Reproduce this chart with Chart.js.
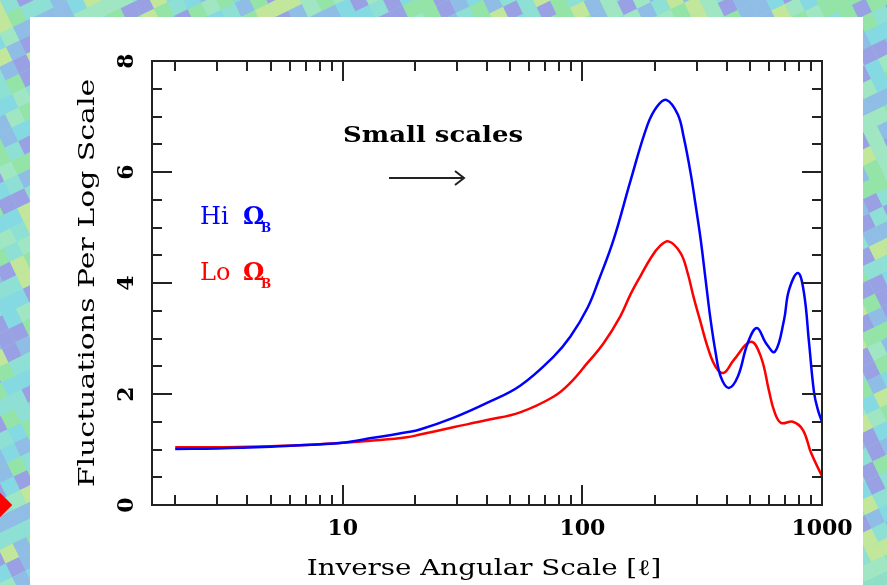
<!DOCTYPE html>
<html>
<head>
<meta charset="utf-8">
<script src="https://cdn.jsdelivr.net/npm/chart.js@4.4.1/dist/chart.umd.min.js"></script>
<style>
  html, body { margin: 0; padding: 0; width: 887px; height: 585px; overflow: hidden; }
  #bg { position: absolute; left: 0; top: 0; }
  #panel { position: absolute; left: 30px; top: 17px; width: 833px; height: 580px; background: #fff; }
  #diamond { position: absolute; left: -36px; top: 485px; width: 40px; height: 40px; background: #ff0000; transform: rotate(45deg); }
  #chart { position: absolute; left: 0; top: 0; }
</style>
</head>
<body>
<canvas id="bg" width="887" height="585"></canvas>
<div id="diamond"></div>
<div id="panel"></div>
<canvas id="chart" width="887" height="585"></canvas>
<script>
// hodnoty odčítané z obrázka
const ellHi = [2, 3, 5, 7, 10, 13.4, 18.5, 21, 28.9, 40, 55, 75.7, 89, 105, 117, 135, 159, 187, 205, 224, 250, 265, 283, 297, 312, 327, 343, 360, 378, 408, 445, 490, 535, 583, 636, 694, 728, 794, 841, 883, 927, 962, 1000];
const valHi = [1.01, 1.02, 1.05, 1.08, 1.12, 1.21, 1.31, 1.36, 1.57, 1.84, 2.15, 2.67, 3.03, 3.55, 4.05, 4.78, 5.85, 6.85, 7.18, 7.30, 7.04, 6.62, 5.98, 5.40, 4.77, 4.05, 3.33, 2.74, 2.31, 2.11, 2.31, 2.92, 3.19, 2.92, 2.76, 3.33, 3.87, 4.18, 3.82, 2.92, 2.02, 1.71, 1.50];

const ellLo = [2, 3, 5, 7, 10, 13.4, 18.5, 21, 28.9, 40, 55, 75.7, 89, 105, 122, 144, 159, 175, 193, 210, 229, 257, 275, 291, 312, 333, 360, 389, 428, 505, 556, 600, 630, 674, 756, 833, 900, 1000];
const valLo = [1.04, 1.04, 1.06, 1.08, 1.12, 1.16, 1.22, 1.27, 1.40, 1.53, 1.67, 1.95, 2.20, 2.56, 2.90, 3.40, 3.80, 4.13, 4.45, 4.66, 4.75, 4.54, 4.18, 3.75, 3.28, 2.85, 2.49, 2.38, 2.61, 2.94, 2.67, 2.07, 1.71, 1.48, 1.50, 1.35, 0.94, 0.52];

const xLabels = [10, 100, 1000];
const yLabels = [0, 2, 4, 6, 8];

const FONT = '"DejaVu Serif", "Liberation Serif", serif';

// pozadie - mozaika
(function () {
    const c = document.getElementById('bg').getContext('2d');
    const cols = ['#8ee0d4', '#93e4a6', '#8fbde6', '#9aa0e4', '#c2e79a', '#84d9e2', '#a0e6c2'];
    c.fillStyle = '#8fdfc8';
    c.fillRect(0, 0, 887, 585);
    c.save();
    c.rotate(-0.45);
    const s = 15;
    for (let i = -20; i < 80; i++) {
        for (let j = -10; j < 60; j++) {
            const k = ((i * 31 + j * 17) ^ (i * j + 7)) & 1023;
            c.fillStyle = cols[k % cols.length];
            c.fillRect(i * s, j * s, s, s);
        }
    }
    c.restore();
})();

// text roztiahnutý do šírky (pôvodné písmo je široké)
function wideText(ctx, text, x, y, rot, sx) {
    ctx.save();
    ctx.translate(x, y);
    ctx.rotate(rot);
    ctx.scale(sx, 1);
    ctx.fillText(text, 0, 0);
    ctx.restore();
}

// vnútorné ticky, otočené popisy osi y, názvy osí a texty v grafe
const decorPlugin = {
    id: 'decor',
    afterDraw(chart) {
        const ctx = chart.ctx;
        const a = chart.chartArea;
        const xs = chart.scales.x, ys = chart.scales.y;
        ctx.save();
        ctx.strokeStyle = '#222';
        ctx.lineWidth = 2;
        ctx.beginPath();
        for (let d = 1; d <= 100; d *= 10) {
            for (let m = 1; m <= 9; m++) {
                const v = d * m;
                if (v < xs.min || v >= xs.max) continue;
                const px = Math.round(xs.getPixelForValue(v));
                const len = m === 1 ? 20 : 10;
                ctx.moveTo(px, a.bottom); ctx.lineTo(px, a.bottom - len);
                ctx.moveTo(px, a.top); ctx.lineTo(px, a.top + len);
            }
        }
        for (let v = 0.5; v < 8; v += 0.5) {
            const py = Math.round(ys.getPixelForValue(v));
            const len = v % 2 === 0 ? 20 : 10;
            ctx.moveTo(a.left, py); ctx.lineTo(a.left + len, py);
            ctx.moveTo(a.right, py); ctx.lineTo(a.right - len, py);
        }
        ctx.stroke();
        // rámik
        ctx.strokeRect(a.left, a.top, a.right - a.left, a.bottom - a.top);

        ctx.fillStyle = '#000';
        ctx.textAlign = 'center';
        ctx.textBaseline = 'middle';

        // popisy y (otočené)
        ctx.font = 'bold 22px ' + FONT;
        yLabels.forEach(v => wideText(ctx, String(v), 127, ys.getPixelForValue(v), -Math.PI / 2, 1));

        // názvy osí
        ctx.font = '22px ' + FONT;
        wideText(ctx, chart.options.scales.y.title.text, 88, 283, -Math.PI / 2, 1.36);
        wideText(ctx, chart.options.scales.x.title.text, 484, 569, 0, 1.26);

        // Small scales + šípka
        ctx.font = 'bold 22px ' + FONT;
        wideText(ctx, 'Small scales', 433, 136, 0, 1.18);
        ctx.beginPath();
        ctx.moveTo(389, 178); ctx.lineTo(463, 178);
        ctx.moveTo(455, 171); ctx.lineTo(464, 178); ctx.lineTo(455, 185);
        ctx.stroke();

        // legenda
        const leg = [['Hi', 'blue', 218], ['Lo', 'red', 274]];
        ctx.textAlign = 'left';
        leg.forEach(([t, c, y]) => {
            ctx.fillStyle = c;
            ctx.font = '24px ' + FONT;
            ctx.fillText(t, 200, y);
            ctx.font = 'bold 24px ' + FONT;
            ctx.fillText('Ω', 243, y);
            ctx.font = 'bold 12px ' + FONT;
            ctx.fillText('B', 261, y + 11);
        });
        ctx.restore();
    }
};

const ctx = document.getElementById('chart').getContext('2d');
const chart = new Chart(ctx, {
    type: 'line',
    data: {
        datasets: [{
            label: 'Hi',
            data: ellHi.map((x, i) => ({ x: x, y: valHi[i] })),
            borderColor: '#0000ff',
            borderWidth: 2.5,
            pointRadius: 0,
            tension: 0.4,
            fill: false
        }, {
            label: 'Lo',
            data: ellLo.map((x, i) => ({ x: x, y: valLo[i] })),
            borderColor: '#ff0000',
            borderWidth: 2.5,
            pointRadius: 0,
            tension: 0.4,
            fill: false
        }]
    },
    options: {
        responsive: false,
        animation: false,
        devicePixelRatio: 1,
        layout: { padding: { left: 30, top: 61, right: 65, bottom: 0 } },
        plugins: { legend: { display: false }, tooltip: { enabled: false } },
        scales: {
            x: {
                type: 'logarithmic',
                min: 1.6,
                max: 1000,
                grid: { display: false, drawTicks: false },
                border: { display: false },
                afterBuildTicks: s => { s.ticks = xLabels.map(v => ({ value: v })); },
                afterFit: s => { s.height = 80; },
                ticks: {
                    color: '#000',
                    padding: 11,
                    maxRotation: 0,
                    font: { family: FONT, size: 22, weight: 'bold' },
                    callback: v => String(v)
                },
                title: { display: false, text: 'Inverse Angular Scale [ℓ]' }
            },
            y: {
                min: 0,
                max: 8,
                grid: { display: false, drawTicks: false },
                border: { display: false },
                ticks: { display: false },
                afterFit: s => { s.width = 122; },
                title: { display: false, text: 'Fluctuations Per Log Scale' }
            }
        }
    },
    plugins: [decorPlugin]
});
</script>
</body>
</html>
